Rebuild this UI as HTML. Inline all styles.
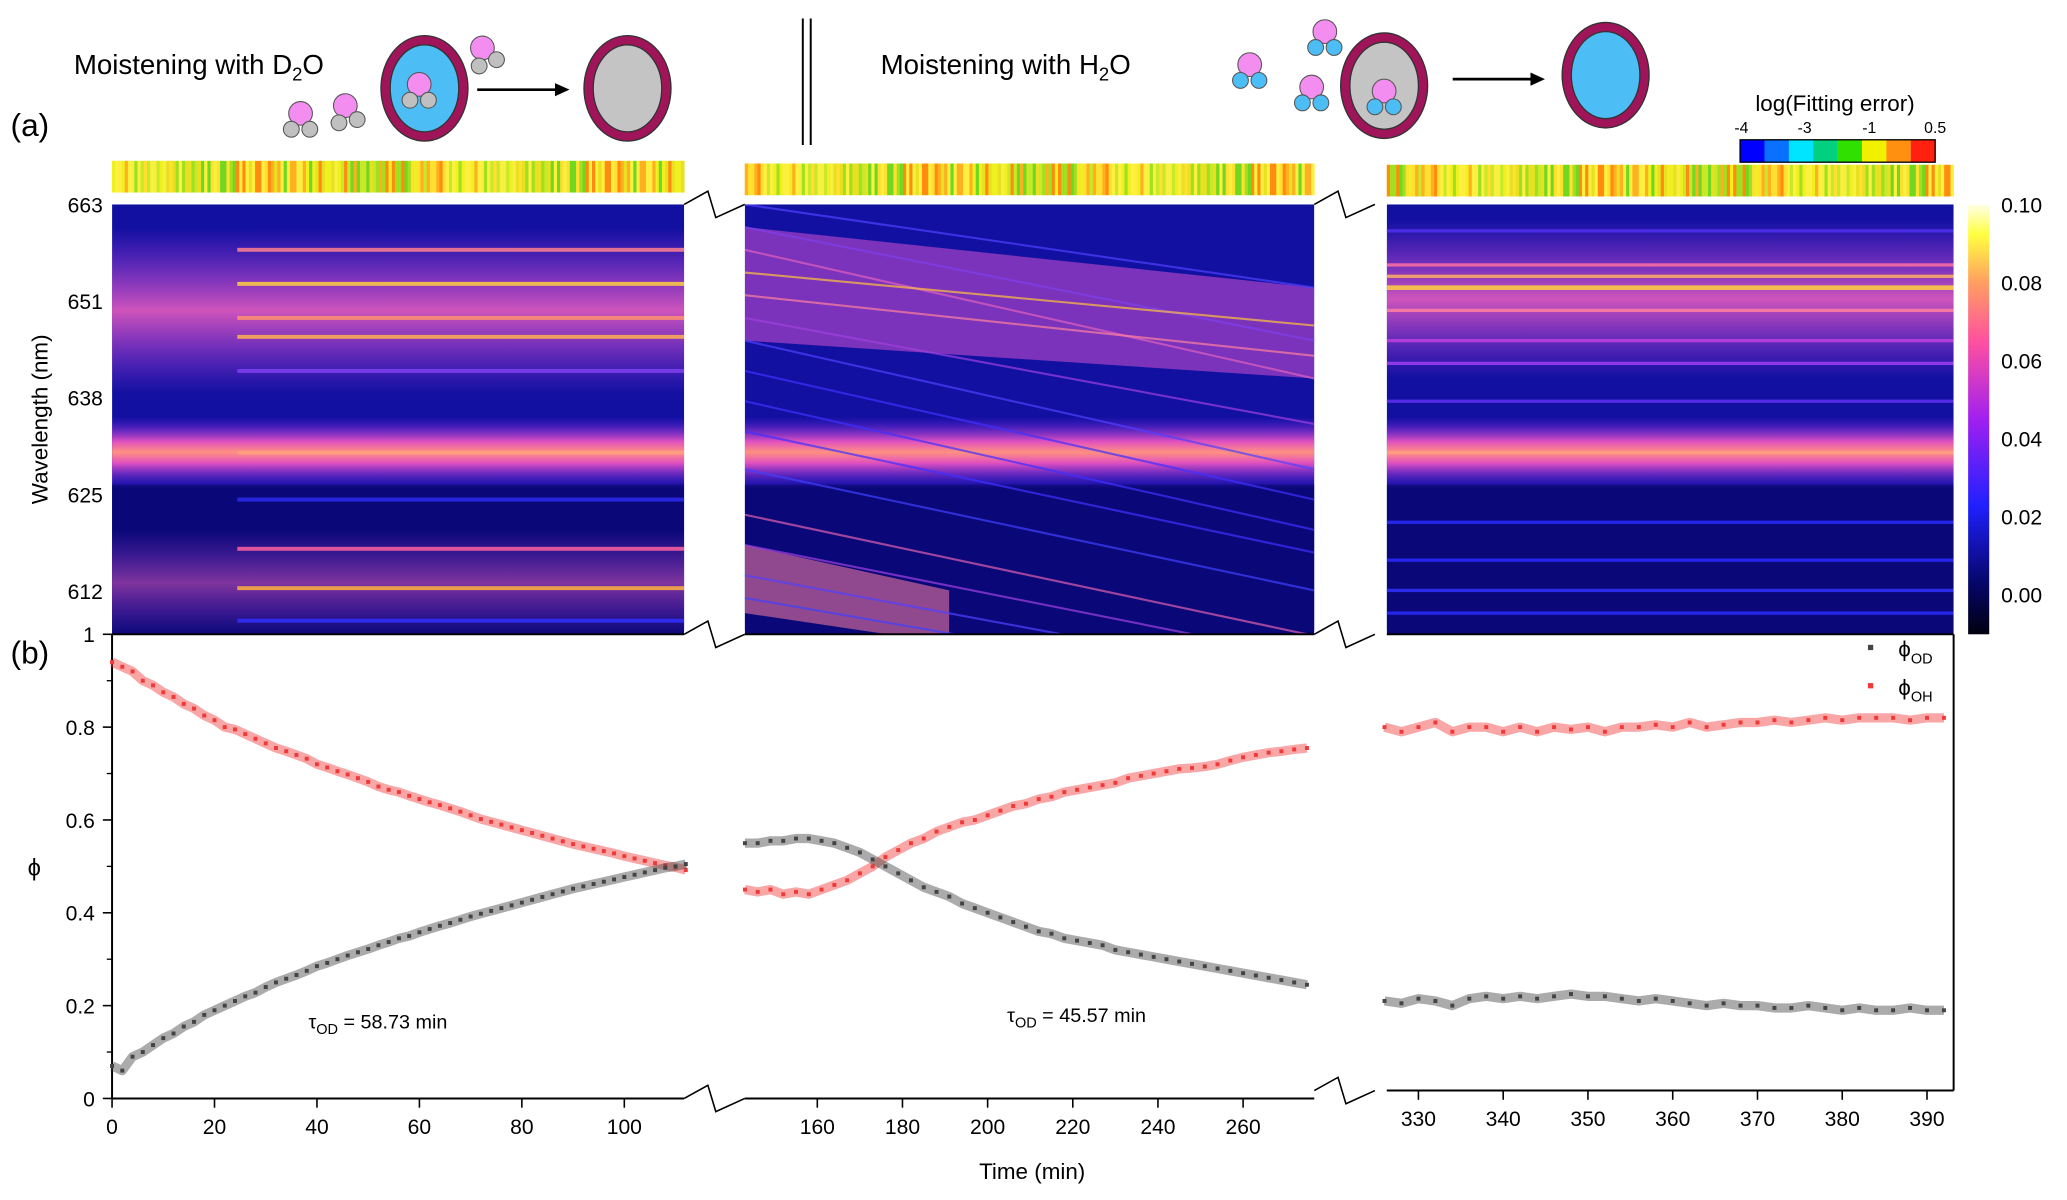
<!DOCTYPE html>
<html><head><meta charset="utf-8"><style>
html,body{margin:0;padding:0;background:#fff;}
svg{display:block;font-family:"Liberation Sans",sans-serif;}
</style></head><body>
<svg id="fig" width="2067" height="1200" viewBox="0 0 1568 910" preserveAspectRatio="none" xmlns="http://www.w3.org/2000/svg">
<defs>
  <linearGradient id="cbar" x1="0" y1="1" x2="0" y2="0">
    <stop offset="0" stop-color="#000010"/><stop offset="0.12" stop-color="#06066a"/>
    <stop offset="0.3" stop-color="#2020ff"/><stop offset="0.5" stop-color="#a020f0"/>
    <stop offset="0.68" stop-color="#ff50a0"/><stop offset="0.82" stop-color="#ffa060"/>
    <stop offset="0.93" stop-color="#ffff40"/><stop offset="1" stop-color="#ffffe8"/>
  </linearGradient>
  <linearGradient id="glow" x1="0" y1="0" x2="0" y2="1">
    <stop offset="0" stop-color="#c040f0" stop-opacity="0"/>
    <stop offset="0.5" stop-color="#f060c0" stop-opacity="0.85"/>
    <stop offset="1" stop-color="#c040f0" stop-opacity="0"/>
  </linearGradient>
  <linearGradient id="band630" x1="0" y1="0" x2="0" y2="1">
    <stop offset="0" stop-color="#6020f0" stop-opacity="0"/>
    <stop offset="0.35" stop-color="#e050c0"/>
    <stop offset="0.5" stop-color="#ff9080"/>
    <stop offset="0.65" stop-color="#e050c0"/>
    <stop offset="1" stop-color="#6020f0" stop-opacity="0"/>
  </linearGradient>
  <clipPath id="c1"><rect x="85" y="155" width="434" height="326"/></clipPath>
  <clipPath id="c2"><rect x="565" y="155" width="432" height="326"/></clipPath>
  <clipPath id="c3"><rect x="1052" y="155" width="430" height="326"/></clipPath>
</defs>

<text x="56" y="56" font-size="21">Moistening with D<tspan font-size="14" dy="5">2</tspan><tspan dy="-5">O</tspan></text>
<text x="668" y="56" font-size="21">Moistening with H<tspan font-size="14" dy="5">2</tspan><tspan dy="-5">O</tspan></text>
<g stroke="#000" stroke-width="1.5">
  <line x1="609" y1="14" x2="609" y2="110"/><line x1="615" y1="14" x2="615" y2="110"/>
</g>
<text x="8" y="103" font-size="24">(a)</text>
<text x="8" y="503" font-size="24">(b)</text>
<g id="illus"></g>

<text x="1392" y="84" font-size="17" text-anchor="middle">log(Fitting error)</text>
<g font-size="12" text-anchor="middle">
  <text x="1321" y="101">-4</text><text x="1369" y="101">-3</text><text x="1418" y="101">-1</text><text x="1468" y="101">0.5</text>
</g>
<g id="fitleg"></g>

<g id="strips"></g>
<g id="heat"></g>

<rect x="1493" y="155" width="16" height="326" fill="url(#cbar)"/>
<g id="cbticks" font-size="16"></g>

<text transform="translate(36,318) rotate(-90)" font-size="17" text-anchor="middle">Wavelength (nm)</text>
<g id="wlticks" font-size="16" text-anchor="end"></g>

<g id="scat"></g>
<text x="26" y="664" font-size="18" text-anchor="middle">ϕ</text>
<text x="783" y="894" font-size="17" text-anchor="middle">Time (min)</text>
<text x="234" y="780" font-size="15">τ<tspan font-size="11" dy="4">OD</tspan><tspan dy="-4"> = 58.73 min</tspan></text>
<text x="764" y="775" font-size="15">τ<tspan font-size="11" dy="4">OD</tspan><tspan dy="-4"> = 45.57 min</tspan></text>
<g font-size="17">
  <rect x="1417" y="489" width="4" height="4" fill="#444"/>
  <text x="1440" y="498">ϕ<tspan font-size="11" dy="5">OD</tspan></text>
  <rect x="1417" y="518" width="4" height="4" fill="#f03a3a"/>
  <text x="1440" y="527">ϕ<tspan font-size="11" dy="5">OH</tspan></text>
</g>
</svg>
<script>
const yTicks = [0, 0.2, 0.4, 0.6, 0.8, 1];
const yTickLabels = ["0", "0.2", "0.4", "0.6", "0.8", "1"];
const xTicks1 = [0, 20, 40, 60, 80, 100];
const xTicks2 = [160, 180, 200, 220, 240, 260];
const xTicks3 = [330, 340, 350, 360, 370, 380, 390];
const wlTicks = [663, 651, 638, 625, 612];
const cbTicks = ["0.10", "0.08", "0.06", "0.04", "0.02", "0.00"];
const cbValues = [0.10, 0.08, 0.06, 0.04, 0.02, 0.00];

const t1 = [0,2,4,6,8,10,12,14,16,18,20,22,24,26,28,30,32,34,36,38,40,42,44,46,48,50,52,54,56,58,60,62,64,66,68,70,72,74,76,78,80,82,84,86,88,90,92,94,96,98,100,102,104,106,108,110,112];
const oh1 = [0.94,0.93,0.92,0.90,0.89,0.875,0.865,0.85,0.84,0.825,0.815,0.80,0.795,0.785,0.775,0.765,0.755,0.748,0.74,0.732,0.72,0.713,0.705,0.698,0.69,0.682,0.672,0.665,0.66,0.652,0.645,0.638,0.632,0.625,0.618,0.61,0.602,0.596,0.59,0.584,0.578,0.572,0.566,0.56,0.554,0.548,0.543,0.538,0.533,0.528,0.522,0.517,0.512,0.507,0.502,0.498,0.492];
const od1 = [0.07,0.06,0.09,0.10,0.115,0.13,0.14,0.155,0.165,0.18,0.19,0.20,0.21,0.22,0.228,0.24,0.25,0.258,0.266,0.275,0.285,0.292,0.30,0.308,0.315,0.322,0.33,0.337,0.345,0.35,0.358,0.365,0.372,0.378,0.385,0.392,0.398,0.404,0.41,0.416,0.422,0.428,0.434,0.44,0.446,0.452,0.457,0.462,0.467,0.472,0.477,0.482,0.487,0.492,0.497,0.50,0.505];
const t2 = [143,146,149,152,155,158,161,164,167,170,173,176,179,182,185,188,191,194,197,200,203,206,209,212,215,218,221,224,227,230,233,236,239,242,245,248,251,254,257,260,263,266,269,272,275];
const oh2 = [0.45,0.445,0.45,0.44,0.445,0.44,0.45,0.46,0.47,0.485,0.50,0.52,0.535,0.55,0.56,0.575,0.585,0.595,0.60,0.61,0.62,0.63,0.635,0.645,0.65,0.66,0.665,0.67,0.675,0.68,0.69,0.695,0.70,0.705,0.71,0.712,0.715,0.72,0.728,0.735,0.74,0.745,0.748,0.752,0.755];
const od2 = [0.55,0.55,0.555,0.555,0.56,0.56,0.555,0.55,0.54,0.53,0.515,0.50,0.485,0.47,0.455,0.445,0.435,0.42,0.41,0.40,0.39,0.38,0.37,0.36,0.355,0.345,0.34,0.335,0.33,0.32,0.315,0.31,0.305,0.30,0.295,0.29,0.285,0.28,0.275,0.27,0.265,0.26,0.255,0.25,0.245];
const t3 = [326,328,330,332,334,336,338,340,342,344,346,348,350,352,354,356,358,360,362,364,366,368,370,372,374,376,378,380,382,384,386,388,390,392];
const oh3 = [0.80,0.79,0.80,0.81,0.79,0.80,0.80,0.79,0.80,0.79,0.80,0.795,0.80,0.79,0.80,0.80,0.805,0.80,0.81,0.80,0.805,0.81,0.81,0.815,0.81,0.815,0.82,0.815,0.82,0.82,0.82,0.815,0.82,0.82];
const od3 = [0.21,0.205,0.215,0.21,0.20,0.215,0.22,0.215,0.22,0.215,0.22,0.225,0.22,0.22,0.215,0.21,0.215,0.21,0.205,0.20,0.205,0.20,0.20,0.195,0.195,0.20,0.195,0.19,0.195,0.19,0.19,0.195,0.19,0.19];

const bands1wl = [657, 652.5, 648, 645.5, 641, 630.2, 617.5, 612.3, 608, 624];
const bands1col = ["#ff8090","#ffd040","#ff9070","#ffb050","#8040f0","#ffa080","#ff60a0","#ffb040","#3030ff","#2a2af0"];
const bands3wl = [659.5, 655, 653.5, 652, 649, 645, 642, 637, 630.2, 621, 616, 612, 609];
const bands3col = ["#5030f0","#ff70a0","#ffb060","#ffd040","#ff80a0","#c040e0","#a040f0","#6030f0","#ffa080","#2a2aff","#2a2aff","#3030ff","#2a2aff"];
const diagStart = [663,660,657,654,651,648,645,641,637,633,628,622,618,614,611];
const diagEnd   = [652,645,640,647,643,634,628,624,620,617,612,606,603,600,598];
const diagCol   = ["#5040ff","#8040f0","#e060c0","#ffc040","#ff80a0","#a040e0","#5040ff","#4030ff","#4030ff","#4030ff","#4040ff","#e060b0","#a040e0","#5040ff","#4040ff"];

const NS = "http://www.w3.org/2000/svg";
function mk(tag, attrs, parent){ const e=document.createElementNS(NS,tag); for(const k in attrs) e.setAttribute(k,attrs[k]); parent.appendChild(e); return e; }
const yPhi = v => 833 - v*352;
const x1 = t => 85 + t*3.886;
const x2 = t => 620 + (t-160)*3.23;
const x3 = t => 1076 + (t-330)*6.43;
const yWl = wl => 155 + (663-wl)*5.74;

const il = document.getElementById('illus');
function molecule(cx, cy, small, rot){
  const g = mk('g',{transform:`translate(${cx},${cy}) rotate(${rot})`}, il);
  
  
  mk('circle',{cx:0,cy:-6,r:9,fill:'#f38ef0',stroke:'#555','stroke-width':0.8},g);
  mk('circle',{cx:-7,cy:6,r:6,fill:small,stroke:'#555','stroke-width':0.8},g);
  mk('circle',{cx:7,cy:6,r:6,fill:small,stroke:'#555','stroke-width':0.8},g);
}
function droplet(cx, cy, inner){
  const g = mk('g',{},il);
  
  
  mk('ellipse',{cx:cx,cy:cy,rx:33,ry:40,fill:'#a0145a',stroke:'#333','stroke-width':1},g);
  mk('ellipse',{cx:cx,cy:cy,rx:26,ry:33,fill:inner,stroke:'#333','stroke-width':1},g);
}
function arrow(xa, xb, y){
  const g = mk('g',{},il);
  
  
  mk('line',{x1:xa,y1:y,x2:xb-8,y2:y,stroke:'#000','stroke-width':2},g);
  mk('path',{d:`M${xb},${y} L${xb-11},${y-5} L${xb-11},${y+5} Z`,fill:'#000'},g);
}
droplet(322,67,'#4cbdf5'); molecule(318,70,'#c0c0c0',0);
arrow(362,432,68); droplet(476,67,'#c4c4c4');
molecule(228,92,'#c0c0c0',0); molecule(263,86,'#c0c0c0',-10); molecule(368,42,'#c0c0c0',-20);
droplet(1050,65,'#c4c4c4'); molecule(1050,75,'#4cbdf5',0);
arrow(1102,1172,60); droplet(1218,57,'#4cbdf5');
molecule(948,55,'#4cbdf5',0); molecule(1005,30,'#4cbdf5',0); molecule(995,72,'#4cbdf5',0);

const fl = document.getElementById('fitleg');
const fitColors = ["#0000ff","#0a70ff","#00e5ff","#00d080","#30e000","#f0f000","#ff9010","#ff2010"];
fitColors.forEach((c,i)=>{ const r=mk('rect',{x:1320+i*18.5,y:106,width:18.6,height:17,fill:c},fl);
  
   });
mk('rect',{x:1320,y:106,width:148,height:17,fill:'none',stroke:'#000','stroke-width':1},fl);

const st = document.getElementById('strips');
const stripPal = ["#f0f020","#ffe030","#e8e020","#ffb020","#a0e020","#f8f040","#ff8c10","#c8e828","#fff040","#70d820"];
[[85,122,434],[565,124,432],[1052,125,430]].forEach(([x0,y0,w],p)=>{
  const n=180, dw=w/n;
  mk('rect',{x:x0,y:y0,width:w,height:24,fill:'#f0e830'},st);
  for(let i=0;i<n;i++){
    const k=(i*7+p*3+((i*i)%11))%stripPal.length;
    mk('rect',{x:x0+i*dw,y:y0,width:dw+0.3,height:24,fill:stripPal[k]},st);
  }
});

const hm = document.getElementById('heat');
function panelBase(x0,w,clip){
  const g = mk('g',{'clip-path':`url(#${clip})`},hm);
  
  
  mk('rect',{x:x0,y:155,width:w,height:326,fill:'#1210a0'},g);
  mk('rect',{x:x0,y:yWl(626),width:w,height:481-yWl(626),fill:'#0a0878'},g);
  mk('rect',{x:x0,y:yWl(635),width:w,height:yWl(625.5)-yWl(635),fill:'url(#band630)'},g);
  return g;
}
function hband(g,x0,w,wl,col,th){
  const b=mk('rect',{x:x0,y:yWl(wl)-th/2,width:w,height:th,fill:col,opacity:0.85},g);
  
  
}
let g1 = panelBase(85,434,'c1');
mk('rect',{x:85,y:yWl(660),width:434,height:yWl(638)-yWl(660),fill:'url(#glow)'},g1);
mk('rect',{x:85,y:yWl(620),width:434,height:yWl(606)-yWl(620),fill:'url(#glow)',opacity:0.6},g1);
bands1wl.forEach((wl,i)=>hband(g1,180,339,wl,bands1col[i],3));
let g2 = panelBase(565,432,'c2');
mk('path',{d:`M565,${yWl(660)} L997,${yWl(652)} L997,${yWl(640)} L565,${yWl(645)} Z`,fill:'#d050d0',opacity:0.55},g2);
mk('path',{d:`M565,${yWl(618)} L720,${yWl(612)} L720,${yWl(605)} L565,${yWl(609)} Z`,fill:'#ff80a0',opacity:0.55},g2);
diagStart.forEach((s,i)=>{
  const l=mk('line',{x1:565,y1:yWl(s),x2:997,y2:yWl(diagEnd[i]),stroke:diagCol[i],'stroke-width':1.6,opacity:0.7},g2);
  
  
});
let g3 = panelBase(1052,430,'c3');
mk('rect',{x:1052,y:yWl(661),width:430,height:yWl(640)-yWl(661),fill:'url(#glow)'},g3);
bands3wl.forEach((wl,i)=>hband(g3,1052,430,wl,bands3col[i],i==3?3.5:2.5));

const cbt=document.getElementById('cbticks');
cbValues.forEach((v,i)=>{ const t=mk('text',{x:1518,y:161+(0.10-v)*2960},cbt); t.textContent=cbTicks[i]; });
const wlt=document.getElementById('wlticks');
wlTicks.forEach((v,i)=>{ const y=155+i*73.3; const t=mk('text',{x:78,y:y+6},wlt); t.textContent=v; });

const sc=document.getElementById('scat');
function axesSeg(xa,xb,yb){ mk('line',{x1:xa,y1:yb,x2:xb,y2:yb,stroke:'#000','stroke-width':1.5},sc); }
mk('line',{x1:85,y1:481,x2:1482,y2:481,stroke:'#000','stroke-width':1.5},sc);
mk('rect',{x:519,y:478,width:46,height:6,fill:'#fff'},sc);
mk('rect',{x:997,y:478,width:55,height:6,fill:'#fff'},sc);
axesSeg(85,519,833); axesSeg(565,997,833); axesSeg(1052,1482,827);
mk('line',{x1:85,y1:481,x2:85,y2:833,stroke:'#000','stroke-width':1.5},sc);
mk('line',{x1:1482,y1:481,x2:1482,y2:827,stroke:'#000','stroke-width':1.5},sc);
[[519,833],[997,827],[519,481],[997,481],[519,155],[997,155]].forEach(([bx,by])=>{
  mk('path',{d:`M${bx},${by} L${bx+18},${by-10} L${bx+24},${by+10} L${bx+46},${by}`,fill:'none',stroke:'#000','stroke-width':1.2},sc);
});
yTicks.forEach((v,i)=>{
  const y=yPhi(v);
  mk('line',{x1:85,y1:y,x2:78,y2:y,stroke:'#000','stroke-width':1.2},sc);
  if(i<yTicks.length-1) mk('line',{x1:85,y1:yPhi(v+0.1),x2:81,y2:yPhi(v+0.1),stroke:'#000','stroke-width':1},sc);
  const t=mk('text',{x:72,y:y+6,'font-size':16,'text-anchor':'end'},sc); t.textContent=yTickLabels[i];
});
function xt(ticks,fx,yb){
  ticks.forEach(v=>{ const x=fx(v);
    mk('line',{x1:x,y1:yb,x2:x,y2:yb+7,stroke:'#000','stroke-width':1.2},sc);
    const t=mk('text',{x:x,y:yb+27,'font-size':16,'text-anchor':'middle'},sc); t.textContent=v; });
}
xt(xTicks1,x1,833); xt(xTicks2,x2,833); xt(xTicks3,x3,827);
function series(ts,vs,fx,col,name){
  const g=mk('g',{},sc);
  
  
  mk('polyline',{points:ts.map((t,i)=>fx(t)+','+yPhi(vs[i])).join(' '),fill:'none',stroke:col,'stroke-width':7,opacity:0.45,'stroke-linejoin':'round'},g);
  ts.forEach((t,i)=>{
    const p=mk('rect',{x:fx(t)-1.5,y:yPhi(vs[i])-1.5,width:3,height:3,fill:col},g);
    
    
  });
}
series(t1,oh1,x1,'#f03a3a','series-oh-panel1'); series(t1,od1,x1,'#444','series-od-panel1');
series(t2,oh2,x2,'#f03a3a','series-oh-panel2'); series(t2,od2,x2,'#444','series-od-panel2');
series(t3,oh3,x3,'#f03a3a','series-oh-panel3'); series(t3,od3,x3,'#444','series-od-panel3');
</script>
</body></html>
